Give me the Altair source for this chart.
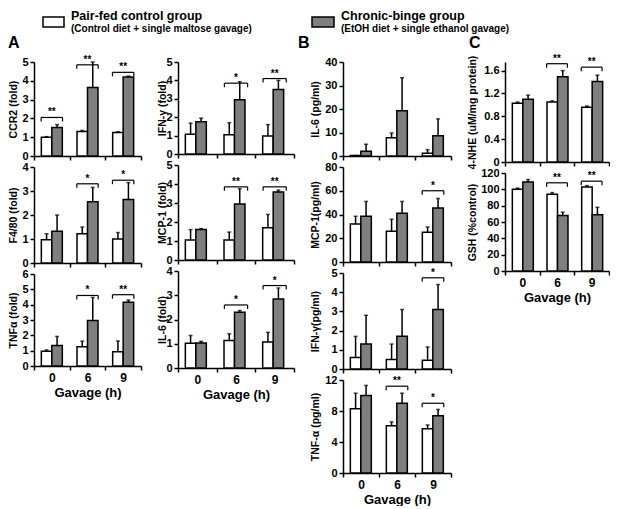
import altair as alt
import pandas as pd

FONT = "Liberation Sans"
groups = ["0", "6", "9"]
series = ["Pair-fed control group", "Chronic-binge group"]
series_notes = ["(Control diet + single maltose gavage)", "(EtOH diet + single ethanol gavage)"]
panel_letters = ["A", "B", "C"]

# ---- Column A (fold) ----
ccr2_w = [1.0, 1.3, 1.25]; ccr2_we = [0.03, 0.06, 0.04]
ccr2_g = [1.52, 3.65, 4.2]; ccr2_ge = [0.15, 1.35, 0.05]
ccr2_sig = (["0", "6", "9"], [2.05, 4.85, 4.45], ["**", "**", "**"])

f480_w = [0.97, 1.22, 1.0]; f480_we = [0.25, 0.28, 0.27]
f480_g = [1.32, 2.55, 2.65]; f480_ge = [0.68, 0.6, 0.7]
f480_sig = (["6", "9"], [3.3, 3.45], ["*", "*"])

tnfa_w = [0.97, 1.25, 0.93]; tnfa_we = [0.08, 0.37, 0.7]
tnfa_g = [1.33, 2.97, 4.15]; tnfa_ge = [0.6, 1.5, 0.15]
tnfa_sig = (["6", "9"], [4.6, 4.65], ["*", "**"])

ifng_w = [1.08, 1.05, 0.98]; ifng_we = [0.6, 0.65, 0.62]
ifng_g = [1.75, 2.95, 3.5]; ifng_ge = [0.2, 0.98, 0.5]
ifng_sig = (["6", "9"], [3.85, 4.1], ["*", "**"])

mcp1_w = [1.05, 1.05, 1.7]; mcp1_we = [0.55, 0.42, 0.7]
mcp1_g = [1.6, 2.95, 3.58]; mcp1_ge = [0.05, 0.8, 0.1]
mcp1_sig = (["6", "9"], [3.85, 3.85], ["**", "**"])

il6_w = [1.02, 1.13, 1.07]; il6_we = [0.32, 0.28, 0.4]
il6_g = [1.03, 2.3, 2.85]; il6_ge = [0.07, 0.07, 0.45]
il6_sig = (["6", "9"], [2.6, 3.4], ["*", "*"])

# ---- Column B (pg/ml) ----
il6p_w = [0.2, 7.8, 1.2]; il6p_we = [0.0, 2.0, 1.5]
il6p_g = [2.0, 19.3, 8.6]; il6p_ge = [3.0, 14.0, 7.2]

mcp1p_w = [32, 26, 25]; mcp1p_we = [6.5, 10, 4.5]
mcp1p_g = [38.5, 41, 45.5]; mcp1p_ge = [12.5, 10, 8]
mcp1p_sig = (["9"], [60], ["*"])

ifngp_w = [0.6, 0.5, 0.45]; ifngp_we = [1.1, 0.8, 0.7]
ifngp_g = [1.3, 1.7, 3.1]; ifngp_ge = [1.5, 1.4, 1.3]
ifngp_sig = (["9"], [4.75], ["*"])

tnfap_w = [8.3, 6.1, 5.7]; tnfap_we = [2.0, 0.5, 0.5]
tnfap_g = [10.0, 9.0, 7.4]; tnfap_ge = [1.3, 1.3, 0.8]
tnfap_sig = (["6", "9"], [11.2, 9.0], ["**", "*"])

# ---- Column C ----
nhe_w = [1.03, 1.05, 0.96]; nhe_we = [0.02, 0.02, 0.02]
nhe_g = [1.1, 1.49, 1.41]; nhe_ge = [0.07, 0.11, 0.11]
nhe_sig = (["6", "9"], [1.72, 1.66], ["**", "**"])

gsh_w = [100, 94, 103]; gsh_we = [1.5, 2, 1.5]
gsh_g = [109, 68, 69]; gsh_ge = [3, 4, 9]
gsh_sig = (["6", "9"], [108, 110], ["**", "**"])


def panel(white, werr, gray, gerr, ymax, ticks, ytitle, width, height,
          sig=None, bottom=False, extent=12, tpad=3):
    rows = []
    for i, g in enumerate(groups):
        rows.append(dict(group=g, series=series[0], value=white[i], err=werr[i]))
        rows.append(dict(group=g, series=series[1], value=gray[i], err=gerr[i]))
    df = pd.DataFrame(rows)
    xaxis = alt.Axis(title="Gavage (h)" if bottom else None, labels=bottom,
                     tickBand="extent", labelAngle=0, titlePadding=3)
    xscale = alt.Scale(paddingInner=0, paddingOuter=0)

    def X(bp=None):
        if bp is None:
            return alt.X("group:N", sort=groups, scale=xscale, axis=xaxis)
        return alt.X("group:N", sort=groups, scale=xscale, axis=xaxis, bandPosition=bp)

    yscale = alt.Scale(domain=[0, ymax], nice=False, zero=True)
    yaxis = alt.Axis(title=ytitle, values=ticks, minExtent=extent, maxExtent=extent,
                     titlePadding=tpad, format="~r")

    def Y(f):
        return alt.Y(f, scale=yscale, axis=yaxis)

    xoff = alt.XOffset("series:N", sort=series,
                       scale=alt.Scale(paddingInner=0, paddingOuter=0.7))
    base = alt.Chart(df)
    bars = base.mark_bar(stroke="black", strokeWidth=1.5).encode(
        x=X(), xOffset=xoff, y=Y("value:Q"),
        fill=alt.Fill("series:N", scale=alt.Scale(domain=series, range=["white", "#7f7f7f"]), legend=None))
    errs = base.transform_calculate(top="datum.value + datum.err").mark_rule(
        strokeWidth=1.5, color="black").encode(x=X(), xOffset=xoff, y=Y("value:Q"), y2="top:Q")
    caps = base.transform_calculate(top="datum.value + datum.err").mark_tick(
        size=4, thickness=1.5, color="black").encode(x=X(), xOffset=xoff, y=Y("top:Q"))
    layers = [bars, errs, caps]
    if sig:
        sdf = pd.DataFrame(dict(group=sig[0], h=sig[1], label=sig[2]))
        sb = alt.Chart(sdf)
        hl = sb.mark_rule(strokeWidth=1.2, color="black").encode(
            x=X(0.2), x2=alt.X2("group:N", bandPosition=0.8), y=Y("h:Q"))
        el = sb.mark_rule(strokeWidth=1.2, color="black", y2Offset=4).encode(
            x=X(0.2), y=Y("h:Q"), y2="h:Q")
        er = sb.mark_rule(strokeWidth=1.2, color="black", y2Offset=4).encode(
            x=X(0.8), y=Y("h:Q"), y2="h:Q")
        st = sb.mark_text(baseline="bottom", dy=0, fontWeight="bold", fontSize=10,
                          font=FONT, color="black").encode(
            x=X(), y=Y("h:Q"), text="label:N")
        layers += [hl, el, er, st]
    return alt.layer(*layers).properties(width=width, height=height)


colA1 = alt.vconcat(
    panel(ccr2_w, ccr2_we, ccr2_g, ccr2_ge, 5, [0, 1, 2, 3, 4, 5], "CCR2 (fold)", 107, 94, ccr2_sig, extent=13, tpad=3),
    panel(f480_w, f480_we, f480_g, f480_ge, 4, [0, 1, 2, 3, 4], "F4/80 (fold)", 107, 96, f480_sig, extent=13, tpad=3),
    panel(tnfa_w, tnfa_we, tnfa_g, tnfa_ge, 6, [0, 1, 2, 3, 4, 5, 6], "TNFα (fold)", 107, 92, tnfa_sig, bottom=True, extent=13, tpad=3),
    spacing=11, bounds="flush")
colA2 = alt.vconcat(
    panel(ifng_w, ifng_we, ifng_g, ifng_ge, 5, [0, 1, 2, 3, 4, 5], "IFN-γ (fold)", 116, 92, ifng_sig, extent=10, tpad=1),
    panel(mcp1_w, mcp1_we, mcp1_g, mcp1_ge, 5, [0, 1, 2, 3, 4, 5], "MCP-1 (fold)", 116, 95, mcp1_sig, extent=10, tpad=1),
    panel(il6_w, il6_we, il6_g, il6_ge, 4, [0, 1, 2, 3, 4], "IL-6 (fold)", 116, 97, il6_sig, bottom=True, extent=10, tpad=1),
    spacing=11, bounds="flush")
colB = alt.vconcat(
    panel(il6p_w, il6p_we, il6p_g, il6p_ge, 40, [0, 10, 20, 30, 40], "IL-6 (pg/ml)", 108, 94, None, extent=20, tpad=3),
    panel(mcp1p_w, mcp1p_we, mcp1p_g, mcp1p_ge, 80, [0, 20, 40, 60, 80], "MCP-1(pg/ml)", 108, 95, mcp1p_sig, extent=20, tpad=3),
    panel(ifngp_w, ifngp_we, ifngp_g, ifngp_ge, 5, [0, 1, 2, 3, 4, 5], "IFN-γ(pg/ml)", 108, 96, ifngp_sig, extent=20, tpad=3),
    panel(tnfap_w, tnfap_we, tnfap_g, tnfap_ge, 12, [0, 4, 8, 12], "TNF-α (pg/ml)", 108, 93, tnfap_sig, bottom=True, extent=20, tpad=3),
    spacing=11, bounds="flush")
colC = alt.vconcat(
    panel(nhe_w, nhe_we, nhe_g, nhe_ge, 1.75, [0, 0.4, 0.8, 1.2, 1.6], "4-NHE (uM/mg protein)", 104, 100, nhe_sig, extent=22, tpad=6),
    panel(gsh_w, gsh_we, gsh_g, gsh_ge, 120, [0, 20, 40, 60, 80, 100, 120], "GSH (%control)", 104, 98, gsh_sig, bottom=True, extent=22, tpad=6),
    spacing=11, bounds="flush")

body = alt.hconcat(colA1, colA2, colB, colC, spacing=15)

# ---- header (legend + panel letters); origin sits above the first plot's left edge ----
hb = alt.Chart(pd.DataFrame({"k": [0]}))
box1 = hb.mark_rect(fill="white", stroke="black", strokeWidth=1.5).encode(
    x=alt.value(9), x2=alt.value(30), y=alt.value(9), y2=alt.value(19))
box2 = hb.mark_rect(fill="#7f7f7f", stroke="black", strokeWidth=1.5).encode(
    x=alt.value(278), x2=alt.value(300), y=alt.value(9), y2=alt.value(19))


def htext(txt, x, y, size):
    return hb.mark_text(align="left", baseline="alphabetic", font=FONT, fontWeight="bold",
                        fontSize=size, color="black").encode(
        x=alt.value(x), y=alt.value(y), text=alt.value(txt))


header = alt.layer(
    box1, box2,
    htext(series[0], 37, 11.5, 12.5), htext(series_notes[0], 37, 23.5, 10),
    htext(series[1], 307, 11.5, 12.5), htext(series_notes[1], 307, 23.5, 10),
    htext(panel_letters[0], -26, 39.5, 16), htext(panel_letters[1], 264, 39.5, 16),
    htext(panel_letters[2], 435, 39.5, 16),
).properties(width=560, height=42)

chart = alt.vconcat(header, body, spacing=2).configure_view(stroke=None).configure_axis(
    domainColor="black", domainWidth=1.5, tickColor="black", tickWidth=1.5, tickSize=4,
    labelFont=FONT, labelFontSize=11, labelFontWeight="bold", labelColor="black", labelPadding=2,
    titleFont=FONT, titleFontSize=10.5, titleFontWeight="bold", titleColor="black", grid=False
).configure_axisX(titleFontSize=13, labelFontSize=12).properties(
    padding={"left": 0, "top": 0, "right": 0, "bottom": 0})

chart.save("out.html", embed_options={"renderer": "svg", "actions": False})
